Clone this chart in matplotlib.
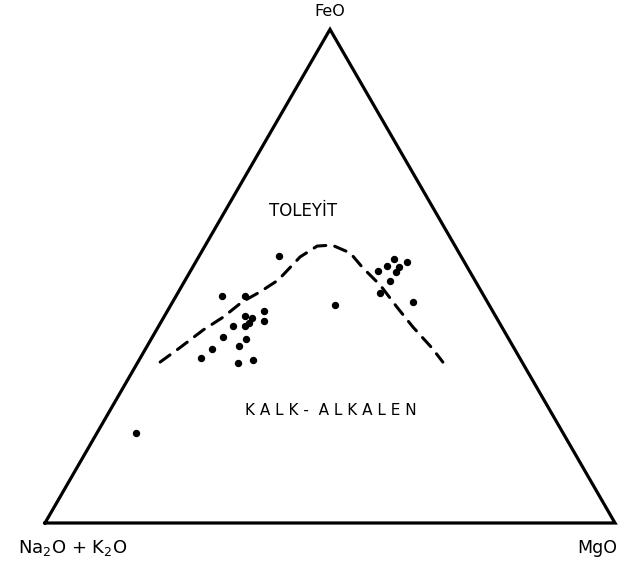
import numpy as np
import matplotlib
matplotlib.use("Agg")
import matplotlib.pyplot as plt

# AFM diagram: A = Na2O + K2O, F = FeO, M = MgO (percent)
sample_A = [32, 46, 42, 40, 44, 43, 47, 45, 44, 41, 50, 46, 53, 48, 56, 50, 47,
            27, 16, 14, 12, 10, 12, 13, 15, 18, 13, 75]
sample_F = [54, 46, 46, 43, 42, 41.5, 40, 40, 40.5, 41, 37.7, 37.3, 35.3, 35.9, 33.4, 32.4, 33,
            44.2, 51, 52, 53.5, 52.9, 51.9, 50.9, 49, 46.6, 44.8, 18.2]
sample_M = [14, 8, 12, 17, 14, 15.5, 13, 15, 15.5, 18, 12.3, 16.7, 11.7, 16.1, 10.6, 17.6, 20,
            28.8, 33, 34, 34.5, 37.1, 36.1, 36.1, 36, 35.4, 42.2, 6.8]

# tholeiitic / calc-alkaline boundary
curve_A = [63.5, 58.6, 52.7, 47.9, 43, 38.9, 34.5, 28.3, 24.2, 21.5, 19.1, 18.4, 17.1, 16.4, 15.6, 14.4, 13.9]
curve_F = [32.6, 35.5, 39.1, 41.7, 44.8, 46.8, 49.2, 53.9, 56.1, 56.3, 54.7, 51.7, 48.2, 43.8, 39.7, 35.5, 32.6]
curve_M = [3.9, 5.9, 8.2, 10.4, 12.2, 14.3, 16.3, 17.8, 19.7, 22.2, 26.2, 29.9, 34.7, 39.8, 44.7, 50.1, 53.5]


def to_xy(a, f, m):
    a, f, m = np.asarray(a, float), np.asarray(f, float), np.asarray(m, float)
    tot = a + f + m
    f, m = f / tot, m / tot
    return m + f / 2.0, f * np.sqrt(3) / 2.0


fig = plt.figure(figsize=(6.32, 5.69), dpi=100)
ax = fig.add_axes([0, 0, 1, 1])
ax.set_xlim(-45 / 570, 587 / 570)
ax.set_ylim(-46 / 570, 523 / 570)
ax.axis("off")

tri_x, tri_y = to_xy([100, 0, 0, 100], [0, 100, 0, 0], [0, 0, 100, 0])
ax.plot(tri_x, tri_y, color="black", lw=2.3, solid_joinstyle="miter")

cx, cy = to_xy(curve_A, curve_F, curve_M)
ax.plot(cx, cy, color="black", lw=2.2, linestyle=(0, (4, 3)),
        dash_capstyle="round", solid_joinstyle="round")

sx, sy = to_xy(sample_A, sample_F, sample_M)
ax.plot(sx, sy, "o", color="black", markersize=4.3)

ax.text(0.5, 0.897, "FeO", ha="center", va="center", fontsize=11.5)
ax.text(0.049, -0.044, "Na$_2$O + K$_2$O", ha="center", va="center", fontsize=13)
ax.text(0.968, -0.044, "MgO", ha="center", va="center", fontsize=12.5)
ax.text(0.452, 0.548, "TOLEYİT", ha="center", va="center", fontsize=12)
ax.text(0.502, 0.198, "K A L K -  A L K A L E N", ha="center", va="center", fontsize=11)

fig.savefig("out.png", dpi=100, facecolor="white")
